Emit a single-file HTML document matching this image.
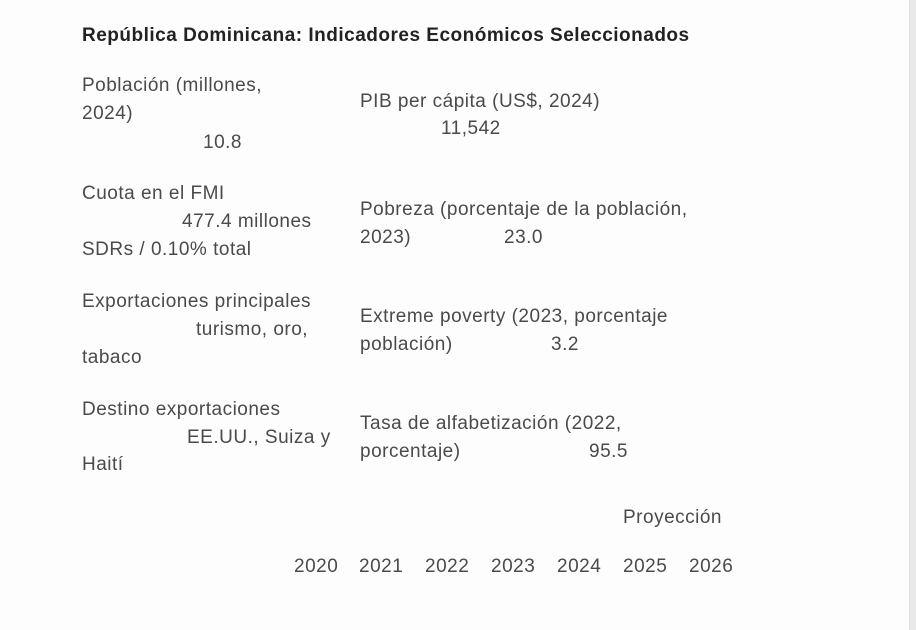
<!DOCTYPE html>
<html><head><meta charset="utf-8"><style>
html,body{margin:0;padding:0;width:916px;height:630px;background:#fdfdfd;overflow:hidden;position:relative;font-family:"Liberation Sans",sans-serif;}
.t{position:absolute;white-space:nowrap;font-size:19px;letter-spacing:0.5px;color:#4a4a4a;line-height:22px;margin-top:1px;}
.h{position:absolute;left:82px;top:25px;font-size:19px;letter-spacing:0.5px;font-weight:bold;color:#222;white-space:nowrap;line-height:22px;}
.bar{position:absolute;left:909px;top:0;width:7px;height:630px;background:#e9e9e9;border-left:1px solid #dcdcdc;}
</style></head><body>
<div class="h">República Dominicana: Indicadores Económicos Seleccionados</div>
<div class="t" style="left:82px;top:74px">Población (millones,</div>
<div class="t" style="left:82px;top:102px">2024)</div>
<div class="t" style="left:203px;top:131px">10.8</div>
<div class="t" style="left:360px;top:90px">PIB per cápita (US$, 2024)</div>
<div class="t" style="left:441px;top:117px">11,542</div>

<div class="t" style="left:82px;top:182px">Cuota en el FMI</div>
<div class="t" style="left:182px;top:210px">477.4 millones</div>
<div class="t" style="left:82px;top:238px">SDRs / 0.10% total</div>
<div class="t" style="left:360px;top:198px">Pobreza (porcentaje de la población,</div>
<div class="t" style="left:360px;top:226px">2023)</div>
<div class="t" style="left:504px;top:226px">23.0</div>

<div class="t" style="left:82px;top:290px">Exportaciones principales</div>
<div class="t" style="left:196px;top:318px">turismo, oro,</div>
<div class="t" style="left:82px;top:346px">tabaco</div>
<div class="t" style="left:360px;top:305px">Extreme poverty (2023, porcentaje</div>
<div class="t" style="left:360px;top:333px">población)</div>
<div class="t" style="left:551px;top:333px">3.2</div>

<div class="t" style="left:82px;top:398px">Destino exportaciones</div>
<div class="t" style="left:187px;top:426px">EE.UU., Suiza y</div>
<div class="t" style="left:82px;top:453px">Haití</div>
<div class="t" style="left:360px;top:412px">Tasa de alfabetización (2022,</div>
<div class="t" style="left:360px;top:440px">porcentaje)</div>
<div class="t" style="left:589px;top:440px">95.5</div>

<div class="t" style="left:623px;top:506px">Proyección</div>
<div class="t" style="left:294px;top:555px">2020</div>
<div class="t" style="left:359px;top:555px">2021</div>
<div class="t" style="left:425px;top:555px">2022</div>
<div class="t" style="left:491px;top:555px">2023</div>
<div class="t" style="left:557px;top:555px">2024</div>
<div class="t" style="left:623px;top:555px">2025</div>
<div class="t" style="left:689px;top:555px">2026</div>
<div class="bar"></div>
</body></html>
